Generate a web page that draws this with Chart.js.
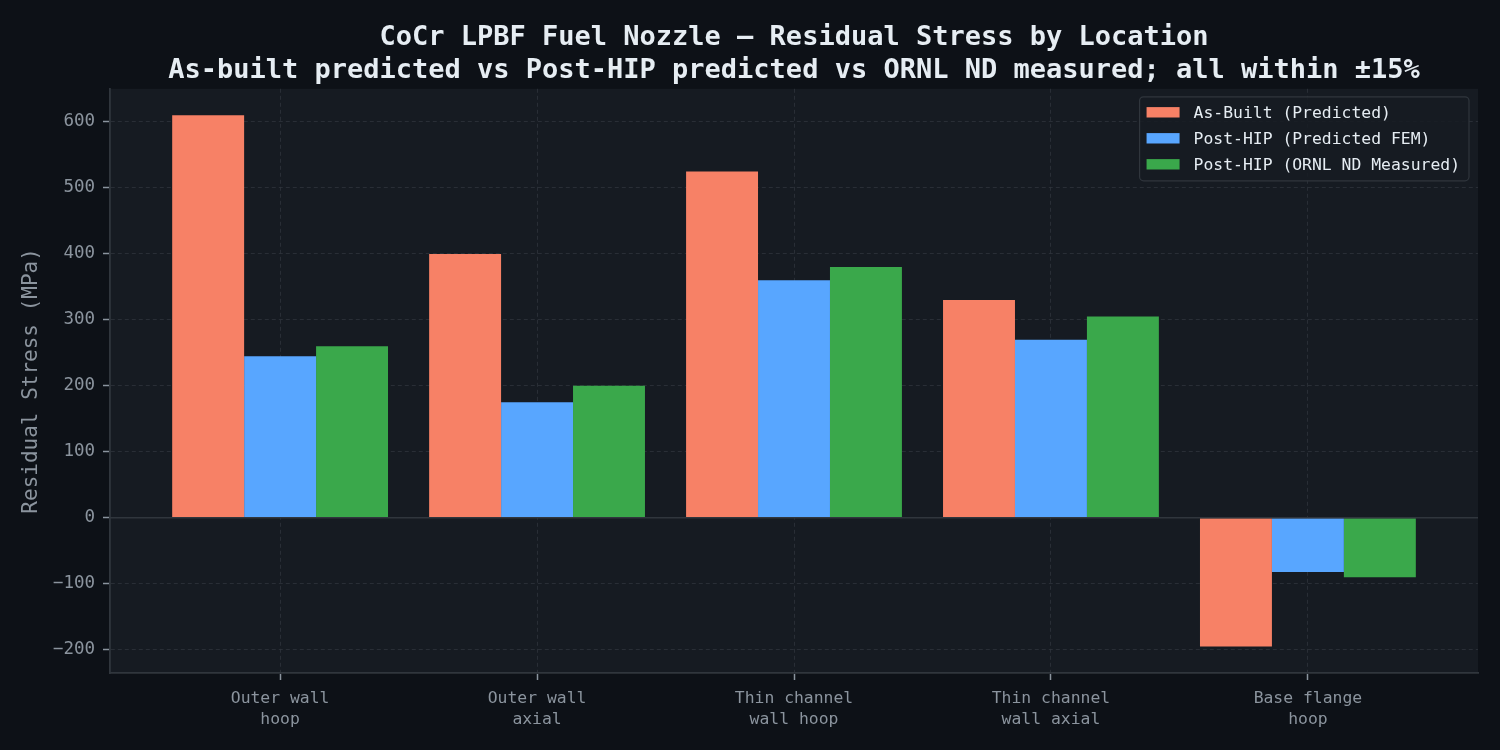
<!DOCTYPE html>
<html>
<head>
<meta charset="utf-8">
<script src="https://cdn.jsdelivr.net/npm/chart.js@4"></script>
<style>
  html, body { margin: 0; padding: 0; background: #0d1117; }
  #wrap { width: 1500px; height: 750px; }
</style>
</head>
<body>
<div id="wrap"><canvas id="stresschart"></canvas></div>
<script>
// residual stress by location, MPa
const locations = [
    ['Outer wall', 'hoop'],
    ['Outer wall', 'axial'],
    ['Thin channel', 'wall hoop'],
    ['Thin channel', 'wall axial'],
    ['Base flange', 'hoop']
];
const asBuilt = [610, 400, 525, 330, -195];
const postHipFem = [245, 175, 360, 270, -82];
const postHipMeasured = [260, 200, 380, 305, -90];
const yTicks = [-200, -100, 0, 100, 200, 300, 400, 500, 600];
const seriesNames = ['As-Built (Predicted)', 'Post-HIP (Predicted FEM)', 'Post-HIP (ORNL ND Measured)'];
const seriesColors = ['#f78166', '#58a6ff', '#3aa84b'];

const mono = "'DejaVu Sans Mono', monospace";

function toPoints(values) {
    return values.map((v, i) => ({ x: i, y: v }));
}

// plot area background
const plotBg = {
    id: 'plotBg',
    beforeDraw(chart) {
        const { ctx, chartArea: a } = chart;
        ctx.save();
        ctx.fillStyle = '#161b22';
        ctx.fillRect(a.left, a.top, a.right - a.left, a.bottom - a.top);
        ctx.restore();
    }
};

// solid line at y = 0, on top of bars
const zeroLine = {
    id: 'zeroLine',
    afterDatasetsDraw(chart) {
        const { ctx, chartArea: a } = chart;
        const y = chart.scales.y.getPixelForValue(0);
        ctx.save();
        ctx.strokeStyle = '#30363d';
        ctx.lineWidth = 1.6;
        ctx.beginPath();
        ctx.moveTo(a.left, y);
        ctx.lineTo(a.right, y);
        ctx.stroke();
        ctx.restore();
    }
};

// framed legend in the upper right corner of the plot
const boxLegend = {
    id: 'boxLegend',
    afterDraw(chart) {
        const { ctx, chartArea: a } = chart;
        const sets = chart.data.datasets;
        ctx.save();
        ctx.font = '16.4px ' + mono;
        let textW = 0;
        sets.forEach(ds => { textW = Math.max(textW, ctx.measureText(ds.label).width); });
        const w = 54 + textW + 9;
        const h = 84;
        const x0 = a.right - 9 - w;
        const y0 = a.top + 8;
        ctx.fillStyle = 'rgba(22,27,34,0.85)';
        ctx.strokeStyle = '#30363d';
        ctx.lineWidth = 1.2;
        ctx.beginPath();
        ctx.roundRect(x0, y0, w, h, 4);
        ctx.fill();
        ctx.stroke();
        ctx.textBaseline = 'middle';
        sets.forEach((ds, i) => {
            const cy = y0 + 15.5 + i * 26;
            ctx.fillStyle = ds.backgroundColor;
            ctx.fillRect(x0 + 7, cy - 5.2, 33, 10.4);
            ctx.fillStyle = '#e6edf3';
            ctx.fillText(ds.label, x0 + 54, cy + 1);
        });
        ctx.restore();
    }
};

const ctx = document.getElementById('stresschart').getContext('2d');
const chart = new Chart(ctx, {
    type: 'bar',
    data: {
        datasets: [{
            label: seriesNames[0],
            data: toPoints(asBuilt),
            backgroundColor: seriesColors[0]
        }, {
            label: seriesNames[1],
            data: toPoints(postHipFem),
            backgroundColor: seriesColors[1]
        }, {
            label: seriesNames[2],
            data: toPoints(postHipMeasured),
            backgroundColor: seriesColors[2]
        }]
    },
    options: {
        responsive: true,
        maintainAspectRatio: false,
        animation: false,
        categoryPercentage: 0.84,
        barPercentage: 1.0,
        layout: { padding: { left: 0, right: 22, top: 0, bottom: 0 } },
        plugins: {
            legend: { display: false },
            tooltip: { enabled: false },
            title: {
                display: true,
                fullSize: false,
                text: [
                    'CoCr LPBF Fuel Nozzle \u2014 Residual Stress by Location',
                    'As-built predicted vs Post-HIP predicted vs ORNL ND measured; all within \u00b115%'
                ],
                color: '#e6edf3',
                font: { family: mono, size: 27, weight: 'bold', lineHeight: 1.2 },
                padding: { top: 22, bottom: 2 }
            }
        },
        scales: {
            x: {
                type: 'linear',
                min: -0.662,
                max: 4.662,
                offset: false,
                afterBuildTicks: (scale) => { scale.ticks = locations.map((c, i) => ({ value: i })); },
                afterFit: (scale) => { scale.height = 77; },
                ticks: {
                    autoSkip: false,
                    maxRotation: 0,
                    color: '#8b949e',
                    padding: 8,
                    font: { family: mono, size: 16.4, lineHeight: 1.28 },
                    callback: (v) => locations[Math.round(v)]
                },
                grid: {
                    offset: false,
                    color: 'rgba(48,54,61,0.75)',
                    lineWidth: 1,
                    drawTicks: true,
                    tickLength: 7,
                    tickColor: '#8b949e',
                    tickWidth: 1.5
                },
                border: { display: true, color: '#30363d', width: 1.8, dash: [4, 3] }
            },
            y: {
                min: -235.25,
                max: 650.25,
                afterBuildTicks: (scale) => { scale.ticks = yTicks.map(v => ({ value: v })); },
                afterFit: (scale) => { scale.width = 110; },
                ticks: {
                    color: '#8b949e',
                    padding: 8,
                    font: { family: mono, size: 17.5 },
                    callback: (v) => String(v).replace('-', '\u2212')
                },
                grid: {
                    color: 'rgba(48,54,61,0.75)',
                    lineWidth: 1,
                    drawTicks: true,
                    tickLength: 7,
                    tickColor: '#8b949e',
                    tickWidth: 1.5
                },
                border: { display: true, color: '#30363d', width: 1.8, dash: [4, 3] },
                title: {
                    display: true,
                    text: 'Residual Stress (MPa)',
                    color: '#8b949e',
                    font: { family: mono, size: 21, lineHeight: 1.2 },
                    padding: { top: 19, bottom: 0 }
                }
            }
        }
    },
    plugins: [plotBg, zeroLine, boxLegend]
});
</script>
</body>
</html>
